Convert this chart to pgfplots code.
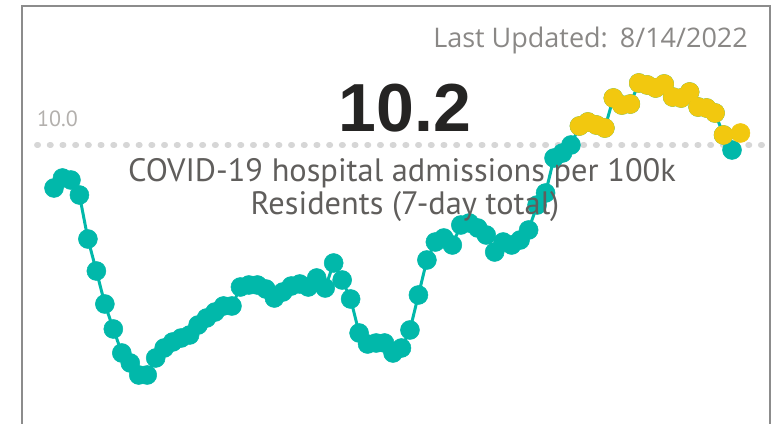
\documentclass[border=0pt]{standalone}
\usepackage{fontspec}
\usepackage{pgfplots}
\pgfplotsset{compat=1.18}
\setmainfont{Liberation Sans}
\newfontfamily\segoe{Open Sans}
\newfontfamily\din{PT Sans}
\definecolor{tealpb}{HTML}{01B8AA}
\definecolor{yelpb}{HTML}{F2C80F}
\definecolor{bordergray}{HTML}{8C8C8C}
\definecolor{subgray}{HTML}{605E5C}
\definecolor{lightlbl}{HTML}{B3B0AD}
\definecolor{dotgray}{HTML}{D6D6D6}
\definecolor{bignum}{HTML}{252423}
\definecolor{updgray}{HTML}{8A8886}

\pgfplotstableread{
i v
0 9.14
1 9.34
2 9.30
3 9.00
4 8.12
5 7.48
6 6.82
7 6.32
8 5.84
9 5.64
10 5.40
11 5.40
12 5.74
13 5.94
14 6.06
15 6.14
16 6.20
17 6.40
18 6.54
19 6.66
20 6.78
21 6.78
22 7.16
23 7.20
24 7.20
25 7.12
26 6.94
27 7.06
28 7.18
29 7.22
30 7.16
31 7.34
32 7.14
33 7.64
34 7.30
35 6.92
36 6.24
37 6.02
38 6.04
39 6.04
40 5.84
41 5.94
42 6.30
43 7.00
44 7.70
45 8.06
46 8.14
47 8.00
48 8.40
49 8.44
50 8.34
51 8.20
52 7.86
53 8.06
54 8.00
55 8.10
56 8.30
57 8.80
58 9.04
59 9.74
60 9.84
61 10.00
62 10.38
63 10.46
64 10.40
65 10.34
66 10.94
67 10.80
68 10.82
69 11.24
70 11.20
71 11.14
72 11.22
73 10.96
74 10.94
75 11.06
76 10.76
77 10.74
78 10.64
79 10.20
80 9.90
}\tealdata

\pgfplotstableread{
i v
62 10.38
63 10.46
64 10.40
65 10.34
66 10.94
67 10.80
68 10.82
69 11.24
70 11.20
71 11.14
72 11.22
73 10.96
74 10.94
75 11.06
76 10.76
77 10.74
78 10.64
79 10.20
81 10.24
}\yellowdata

\begin{document}
\begin{tikzpicture}[x=1pt,y=1pt]
\useasboundingbox (0,0) rectangle (776,423);
\begin{axis}[at={(0pt,0pt)}, anchor=south west, scale only axis,
  width=776pt, height=423pt, hide axis, clip=false,
  xmin=-6.372, xmax=85.192, ymin=4.44, ymax=12.9]
\addplot[dotgray, line width=6pt, line cap=round, dash pattern=on 1pt off 11.7pt]
  coordinates {(-2,10) (84.25,10)};
\addplot[tealpb, line width=3pt, mark=*,
  mark options={solid, line width=0.5pt, draw=tealpb, fill=tealpb, mark size=9.5pt}] table[x=i, y=v] {\tealdata};
\addplot[yelpb, only marks, mark=*,
  mark options={solid, line width=0.5pt, draw=yelpb, fill=yelpb, mark size=9.5pt}] table[x=i, y=v] {\yellowdata};
\end{axis}
\draw[bordergray, line width=2pt] (22,-5) -- (22,417) -- (770,417) -- (770,-5);
\node[anchor=base east, inner sep=0pt, text=updgray, font=\segoe\fontsize{27}{30}\selectfont]
  at (748,375) {Last Updated:\hspace{12pt}8/14/2022};
\node[anchor=base, inner sep=0pt, text=bignum, font=\bfseries\fontsize{68}{70}\selectfont]
  at (405,291) {10.2};
\node[anchor=base west, inner sep=0pt, text=lightlbl, font=\din\fontsize{22}{24}\selectfont]
  at (37,296) {10.0};
\node[anchor=base, inner sep=0pt, text=subgray, font=\din\fontsize{32.4}{35}\selectfont]
  at (402,241) {COVID-19 hospital admissions per 100k};
\node[anchor=base, inner sep=0pt, text=subgray, font=\din\fontsize{32.4}{35}\selectfont]
  at (405,208) {Residents (7-day total)};
\end{tikzpicture}
\end{document}
